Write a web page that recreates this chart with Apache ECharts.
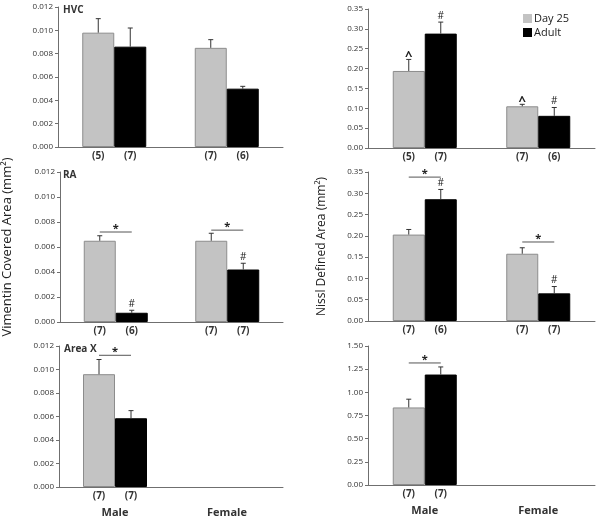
<!DOCTYPE html>
<html>
<head>
<meta charset="utf-8">
<script src="https://cdn.jsdelivr.net/npm/echarts@6/dist/echarts.min.js"></script>
<style>html,body{margin:0;padding:0;background:#fff}#c{width:600px;height:520px}</style>
</head>
<body>
<div id="c"></div>
<script>
// ---------- data ----------
const categories = ['Male', 'Female'];
const seriesNames = ['Day 25', 'Adult'];
const panelTitles = ['HVC', '', 'RA', '', 'Area X', ''];

// Vimentin covered area, HVC
const vimHVC_day25 = [0.0098, 0.0085];
const vimHVC_day25Err = [0.0012, 0.0007];
const vimHVC_adult = [0.0086, 0.0050];
const vimHVC_adultErr = [0.0016, 0.0002];
const vimHVC_nDay25 = ['(5)', '(7)'];
const vimHVC_nAdult = ['(7)', '(6)'];
const vimHVC_markDay25 = ['', ''];
const vimHVC_markAdult = ['', ''];
const vimHVC_bracket = [null, null];

// Nissl defined area, HVC
const nisHVC_day25 = [0.194, 0.105];
const nisHVC_day25Err = [0.029, 0.005];
const nisHVC_adult = [0.288, 0.081];
const nisHVC_adultErr = [0.029, 0.021];
const nisHVC_nDay25 = ['(5)', '(7)'];
const nisHVC_nAdult = ['(7)', '(6)'];
const nisHVC_markDay25 = ['^', '^'];
const nisHVC_markAdult = ['#', '#'];
const nisHVC_bracket = [null, null];

// Vimentin, RA
const vimRA_day25 = [0.0065, 0.0065];
const vimRA_day25Err = [0.0004, 0.0006];
const vimRA_adult = [0.00074, 0.0042];
const vimRA_adultErr = [0.0002, 0.0005];
const vimRA_nDay25 = ['(7)', '(7)'];
const vimRA_nAdult = ['(6)', '(7)'];
const vimRA_markDay25 = ['', ''];
const vimRA_markAdult = ['#', '#'];
const vimRA_bracket = [0.0072, 0.00735];

// Nissl, RA
const nisRA_day25 = [0.203, 0.158];
const nisRA_day25Err = [0.012, 0.014];
const nisRA_adult = [0.286, 0.065];
const nisRA_adultErr = [0.023, 0.016];
const nisRA_nDay25 = ['(7)', '(7)'];
const nisRA_nAdult = ['(6)', '(7)'];
const nisRA_markDay25 = ['', ''];
const nisRA_markAdult = ['#', '#'];
const nisRA_bracket = [0.338, 0.1856];

// Vimentin, Area X (male only)
const vimX_day25 = [0.0096, null];
const vimX_day25Err = [0.00125, null];
const vimX_adult = [0.00585, null];
const vimX_adultErr = [0.00065, null];
const vimX_nDay25 = ['(7)', ''];
const vimX_nAdult = ['(7)', ''];
const vimX_markDay25 = ['', ''];
const vimX_markAdult = ['', ''];
const vimX_bracket = [0.01121, null];

// Nissl, Area X (male only)
const nisX_day25 = [0.837, null];
const nisX_day25Err = [0.089, null];
const nisX_adult = [1.192, null];
const nisX_adultErr = [0.082, null];
const nisX_nDay25 = ['(7)', ''];
const nisX_nAdult = ['(7)', ''];
const nisX_markDay25 = ['', ''];
const nisX_markAdult = ['', ''];
const nisX_bracket = [1.317, null];

// y-axis tick settings per panel
const yMax = [0.012, 0.35, 0.012, 0.35, 0.012, 1.5];
const yInterval = [0.002, 0.05, 0.002, 0.05, 0.002, 0.25];
const yDecimals = [3, 2, 3, 2, 3, 2];
const yTitleLeft = 'Vimentin Covered Area (mm²)';
const yTitleRight = 'Nissl Defined Area (mm²)';

// ---------- assemble ----------
const panels = [
  [vimHVC_day25, vimHVC_day25Err, vimHVC_adult, vimHVC_adultErr, vimHVC_nDay25, vimHVC_nAdult, vimHVC_markDay25, vimHVC_markAdult, vimHVC_bracket],
  [nisHVC_day25, nisHVC_day25Err, nisHVC_adult, nisHVC_adultErr, nisHVC_nDay25, nisHVC_nAdult, nisHVC_markDay25, nisHVC_markAdult, nisHVC_bracket],
  [vimRA_day25, vimRA_day25Err, vimRA_adult, vimRA_adultErr, vimRA_nDay25, vimRA_nAdult, vimRA_markDay25, vimRA_markAdult, vimRA_bracket],
  [nisRA_day25, nisRA_day25Err, nisRA_adult, nisRA_adultErr, nisRA_nDay25, nisRA_nAdult, nisRA_markDay25, nisRA_markAdult, nisRA_bracket],
  [vimX_day25, vimX_day25Err, vimX_adult, vimX_adultErr, vimX_nDay25, vimX_nAdult, vimX_markDay25, vimX_markAdult, vimX_bracket],
  [nisX_day25, nisX_day25Err, nisX_adult, nisX_adultErr, nisX_nDay25, nisX_nAdult, nisX_markDay25, nisX_markAdult, nisX_bracket]
];

const FONT = '"Open Sans", "DejaVu Sans", sans-serif';
const BAR_W = 32;
const grids = [
  {left: 58, top: 7, width: 225, height: 140},
  {left: 368, top: 9, width: 227, height: 139},
  {left: 58, top: 172, width: 225, height: 150},
  {left: 368, top: 172, width: 227, height: 149},
  {left: 59, top: 346, width: 224, height: 141},
  {left: 368, top: 346, width: 227, height: 139}
];

const xAxes = [], yAxes = [], series = [];
panels.forEach((p, i) => {
  const [d25, d25e, ad, ade, nD, nA, mD, mA, br] = p;
  const bottomRow = i >= 4;
  xAxes.push({
    type: 'category', gridIndex: i, data: categories,
    axisLine: {lineStyle: {color: '#6f6f6f', width: 1}},
    axisTick: {show: false},
    axisLabel: {show: bottomRow, margin: 20, fontFamily: FONT, fontSize: 11, fontWeight: 'bold', color: '#333'}
  });
  const y = {
    type: 'value', gridIndex: i, min: 0, max: yMax[i], interval: yInterval[i],
    axisLine: {show: true, lineStyle: {color: '#6f6f6f', width: 1}},
    axisTick: {show: true, length: 3, lineStyle: {color: '#6f6f6f'}},
    splitLine: {show: false},
    axisLabel: {fontFamily: FONT, fontSize: 8, color: '#333', margin: 5,
      formatter: v => v.toFixed(yDecimals[i])}
  };
  if (i === 2) {
    Object.assign(y, {name: yTitleLeft, nameLocation: 'middle', nameGap: 46,
      nameTextStyle: {fontFamily: FONT, fontSize: 13, color: '#222'}});
  }
  if (i === 3) {
    Object.assign(y, {name: yTitleRight, nameLocation: 'middle', nameGap: 40,
      nameTextStyle: {fontFamily: FONT, fontSize: 12, color: '#222'}});
  }
  yAxes.push(y);

  const labelOpt = arr => ({
    show: true, position: 'bottom', distance: 4,
    fontFamily: FONT, fontSize: 10, fontWeight: 'bold', color: '#333',
    formatter: q => arr[q.dataIndex] || ''
  });
  series.push({
    name: seriesNames[0], type: 'bar', xAxisIndex: i, yAxisIndex: i,
    data: d25.map(v => v == null ? '-' : v), barWidth: BAR_W, barGap: '0%',
    itemStyle: {color: '#c3c3c3', borderColor: '#8c8c8c', borderWidth: 1},
    label: labelOpt(nD), silent: true
  });
  series.push({
    name: seriesNames[1], type: 'bar', xAxisIndex: i, yAxisIndex: i,
    data: ad.map(v => v == null ? '-' : v), barWidth: BAR_W, barGap: '0%',
    itemStyle: {color: '#000', borderColor: '#000', borderWidth: 1},
    label: labelOpt(nA), silent: true
  });
  const errSeries = (vals, errs, marks, side) => {
    const data = [];
    vals.forEach((v, k) => { if (v != null) data.push([k, v, errs[k]]); });
    return {
      type: 'custom', xAxisIndex: i, yAxisIndex: i, z: 5, silent: true, clip: false,
      data,
      renderItem: (params, api) => {
        const k = api.value(0), v = api.value(1), e = api.value(2);
        const p0 = api.coord([k, v]);
        const p1 = api.coord([k, v + e]);
        const cx = p0[0] + side * BAR_W / 2;
        const children = [
          {type: 'line', shape: {x1: cx, y1: p0[1], x2: cx, y2: p1[1]}, style: {stroke: '#333', lineWidth: 1}},
          {type: 'line', shape: {x1: cx - 2.5, y1: p1[1], x2: cx + 2.5, y2: p1[1]}, style: {stroke: '#333', lineWidth: 1}}
        ];
        const m = marks[data[params.dataIndex][0]];
        if (m) {
          const isCaret = m === '^';
          children.push({type: 'text', style: {
            text: m, x: cx, y: p1[1] + (isCaret ? 3 : -1), align: 'center', verticalAlign: 'bottom',
            fontFamily: FONT, fontSize: isCaret ? 13 : 10, fontWeight: isCaret ? 'bold' : 'normal', fill: '#222'}});
        }
        return {type: 'group', children};
      }
    };
  };
  series.push(errSeries(d25, d25e, mD, -1));
  series.push(errSeries(ad, ade, mA, 1));
  const brData = [];
  br.forEach((b, k) => { if (b != null) brData.push([k, b]); });
  series.push({
    type: 'custom', xAxisIndex: i, yAxisIndex: i, z: 6, silent: true, clip: false,
    data: brData,
    renderItem: (params, api) => {
      const p = api.coord([api.value(0), api.value(1)]);
      return {type: 'group', children: [
        {type: 'line', shape: {x1: p[0] - BAR_W / 2, y1: p[1], x2: p[0] + BAR_W / 2, y2: p[1]}, style: {stroke: '#555', lineWidth: 1}},
        {type: 'text', style: {text: '*', x: p[0], y: p[1] + 2, align: 'center', verticalAlign: 'bottom',
          fontFamily: FONT, fontSize: 11, fontWeight: 'bold', fill: '#222'}}
      ]};
    }
  });
});

const titles = panelTitles.map((t, i) => ({
  text: t, left: grids[i].left + 5, top: grids[i].top - 2, padding: 0,
  textStyle: {fontFamily: FONT, fontSize: 10, fontWeight: 'bold', color: '#333'}
}));

const chart = echarts.init(document.getElementById('c'), null, {renderer: 'canvas'});
chart.setOption({
  animation: false,
  backgroundColor: '#fff',
  title: titles,
  legend: {
    data: seriesNames, orient: 'vertical', left: 523, top: 13, itemWidth: 9, itemHeight: 9, itemGap: 3,
    icon: 'rect', selectedMode: false, padding: 0,
    itemStyle: {borderWidth: 0},
    textStyle: {fontFamily: FONT, fontSize: 11, color: '#222', padding: [0, 0, 0, -3]}
  },
  grid: grids,
  xAxis: xAxes,
  yAxis: yAxes,
  series
});
</script>
</body>
</html>
